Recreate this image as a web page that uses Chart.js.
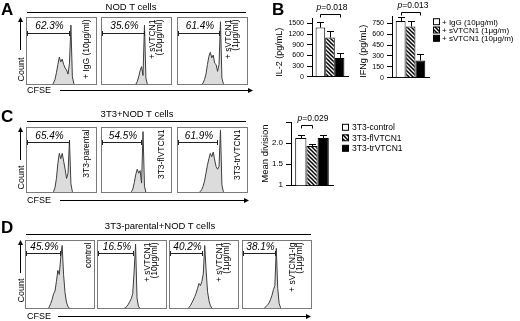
<!DOCTYPE html>
<html>
<head>
<meta charset="utf-8">
<script src="https://cdn.jsdelivr.net/npm/chart.js"></script>
<style>
  html, body { margin: 0; padding: 0; background: #fff; }
  #fig { position: relative; width: 520px; height: 321px; overflow: hidden; }
  #fig canvas { position: absolute; }
  #fig svg { position: absolute; left: 0; top: 0; }
</style>
</head>
<body>
<div id="fig"></div>
<script>
(function () {
    "use strict";

    // CFSE histograms: 50 bins across each plot, counts as % of plot height
    const nodIgG   = [0,0,0,0,0,0,0,0,0,0, 0,0,0,0,0,0,0,0,0,3, 8,18,30,41,34,38,30,25,22,16, 32,88,12,2,0,0,0,0,0,0, 0,0,0,0,0,0,0,0,0,0];
    const nodSv10  = [0,0,0,0,0,0,0,0,0,0, 0,0,0,0,0,0,0,0,0,0, 0,0,0,0,1,5,12,21,27,14, 88,10,1,0,0,0,0,0,0,0, 0,0,0,0,0,0,0,0,0,0];
    const nodSv1   = [0,0,0,0,0,0,0,0,0,0, 0,0,0,0,0,0,0,0,3,8, 16,30,42,48,40,44,32,30,20,30, 93,10,2,0,0,0,0,0,0,0, 0,0,0,0,0,0,0,0,0,0];
    const t3Parent = [0,0,0,0,0,0,0,0,0,0, 0,0,0,0,0,0,0,0,0,2, 8,22,45,60,52,60,48,36,22,30, 80,14,2,0,0,0,0,0,0,0, 0,0,0,0,0,0,0,0,0,0];
    const t3Fl     = [0,0,0,0,0,0,0,0,0,0, 0,0,0,0,0,0,0,0,0,0, 0,2,6,16,28,36,30,34,15,93, 10,1,0,0,0,0,0,0,0,0, 0,0,0,0,0,0,0,0,0,0];
    const t3Tr     = [0,0,0,0,0,0,0,0,0,0, 0,0,0,0,0,0,2,5,10,18, 30,42,52,60,55,62,50,40,36,40, 95,12,2,0,0,0,0,0,0,0, 0,0,0,0,0,0,0,0,0,0];
    const parCtrl  = [0,0,0,0,0,0,0,0,0,0, 0,0,0,0,0,0,0,3,8,14, 22,26,40,56,50,74,92,50,24,10, 4,1,0,0,0,0,0,0,0,0, 0,0,0,0,0,0,0,0,0,0];
    const parSv10  = [0,0,0,0,0,0,0,0,0,0, 0,0,0,0,0,0,0,0,0,1, 2,4,7,11,15,22,55,94,16,4, 1,0,0,0,0,0,0,0,0,0, 0,0,0,0,0,0,0,0,0,0];
    const parSv1   = [0,0,0,0,0,0,0,0,0,0, 0,0,0,0,2,5,9,13,18,23, 30,37,34,40,51,92,55,25,12,5, 1,0,0,0,0,0,0,0,0,0, 0,0,0,0,0,0,0,0,0,0];
    const parSvIg  = [0,0,0,0,0,0,0,0,0,0, 0,0,0,0,0,0,2,4,6,9, 14,20,28,34,88,30,8,2,0,0, 0,0,0,0,0,0,0,0,0,0, 0,0,0,0,0,0,0,0,0,0];

    // divided-cell gates (bin where the gate ends) and their percentages
    const gateNod = [29.6, 30.0, 28.9];
    const pctNod = ["62.3%", "35.6%", "61.4%"];
    const gate3T3 = [29.4, 27.8, 27.3];
    const pct3T3 = ["65.4%", "54.5%", "61.9%"];
    const gatePar = [24.5, 25.2, 22.9, 23.1];
    const pctPar = ["45.9%", "16.5%", "40.2%", "38.1%"];

    const condNod = [["+ IgG (10μg/ml)"], ["+ sVTCN1", "(10μg/ml)"], ["+ sVTCN1", "(1μg/ml)"]];
    const cond3T3 = [["3T3-parental"], ["3T3-flVTCN1"], ["3T3-trVTCN1"]];
    const condPar = [["control"], ["+ sVTCN1", "(10μg/ml)"], ["+ sVTCN1", "(1μg/ml)"], ["+ sVTCN1-Ig", "(1μg/ml)"]];

    // bar charts
    const cytoGroups = ["+ IgG (10μg/ml)", "+ sVTCN1 (1μg/m)", "+ sVTCN1 (10μg/m)"];
    const il2Mean = [1380, 1100, 530];
    const il2Err = [170, 190, 130];
    const ifngMean = [780, 705, 237];
    const ifngErr = [52, 80, 95];
    const lineGroups = ["3T3-control", "3T3-flVTCN1", "3T3-trVTCN1"];
    const divMean = [2.12, 1.93, 2.12];
    const divErr = [0.06, 0.04, 0.06];
    const divTickValues = [1, 1.5, 2];
    const divTickText = ["1", "1.5", "2.0"];

    const FONT = "'Liberation Sans', Arial, sans-serif";
    Chart.defaults.font.family = FONT;
    Chart.defaults.color = "#000";

    const fig = document.getElementById("fig");

    function place(left, top, w, h) {
        const cv = document.createElement("canvas");
        cv.width = w;
        cv.height = h;
        cv.style.left = left + "px";
        cv.style.top = top + "px";
        fig.appendChild(cv);
        return cv;
    }

    // frame + gate bracket + percentage
    const gatePlugin = {
        id: "gate",
        afterDraw(chart, args, o) {
            const { ctx, chartArea: a, scales: { x } } = chart;
            ctx.save();
            ctx.lineWidth = 1;
            ctx.strokeStyle = "#7a7a7a";
            ctx.strokeRect(a.left + 0.5, a.top + 0.5, a.width - 1, a.height - 1);
            const x0 = Math.round(x.getPixelForValue(o.from)) + 0.5;
            const x1 = Math.round(x.getPixelForValue(o.to)) + 0.5;
            const y = Math.round(a.top + o.lineY) + 0.5;
            ctx.strokeStyle = "#222";
            ctx.beginPath();
            ctx.moveTo(x0, y); ctx.lineTo(x1, y);
            ctx.moveTo(x0, y - 2.5); ctx.lineTo(x0, y + 2.5);
            ctx.moveTo(x1, y - 2.5); ctx.lineTo(x1, y + 2.5);
            ctx.stroke();
            ctx.fillStyle = "#000";
            ctx.font = "italic 10px " + FONT;
            ctx.textAlign = "center";
            ctx.fillText(o.text, (x0 + x1) / 2 + 1, a.top + o.textY);
            ctx.restore();
        },
    };

    function cfsePlot(cv, counts, from, to, pct, textY, lineY) {
        return new Chart(cv, {
            type: "line",
            data: {
                labels: counts.map((_, i) => i),
                datasets: [
                    {
                        data: counts,
                        fill: "origin",
                        backgroundColor: "#dcdcdc",
                        borderColor: "#3d3d3d",
                        borderWidth: 1,
                        pointRadius: 0,
                        tension: 0,
                    },
                ],
            },
            options: {
                responsive: false,
                animation: false,
                events: [],
                devicePixelRatio: 1,
                layout: { padding: 0 },
                plugins: {
                    legend: { display: false },
                    tooltip: { enabled: false },
                    gate: { from, to, text: pct, textY, lineY },
                },
                scales: {
                    x: { display: false },
                    y: { display: false, min: 0, max: 100 },
                },
            },
            plugins: [gatePlugin],
        });
    }

    // hatch fill
    function hatch() {
        const c = document.createElement("canvas");
        c.width = 4;
        c.height = 4;
        const g = c.getContext("2d");
        g.fillStyle = "#fff";
        g.fillRect(0, 0, 4, 4);
        g.strokeStyle = "#000";
        g.lineWidth = 1.5;
        g.beginPath();
        g.moveTo(0, 0); g.lineTo(4, 4);
        g.moveTo(-1, 3); g.lineTo(1, 5);
        g.moveTo(3, -1); g.lineTo(5, 1);
        g.stroke();
        return g.createPattern(c, "repeat");
    }
    const fills = ["#fff", hatch(), "#000"];

    // error bars + p-value bracket
    const errorBars = {
        id: "errorBars",
        afterDatasetsDraw(chart, args, o) {
            const { ctx, scales: { y } } = chart;
            ctx.save();
            ctx.strokeStyle = "#000";
            ctx.lineWidth = 1;
            const xs = chart.data.datasets.map((ds, i) => chart.getDatasetMeta(i).data[0].x);
            chart.data.datasets.forEach((ds, i) => {
                const bar = chart.getDatasetMeta(i).data[0];
                const top = Math.round(y.getPixelForValue(ds.data[0] + o.errors[i])) + 0.5;
                const x = Math.round(bar.x) + 0.5;
                ctx.beginPath();
                ctx.moveTo(x, bar.y); ctx.lineTo(x, top);
                ctx.moveTo(x - 3.5, top); ctx.lineTo(x + 3.5, top);
                ctx.stroke();
            });
            const p = o.p;
            const bx0 = Math.round(xs[p.from]) + 0.5, bx1 = Math.round(xs[p.to]) + 0.5;
            const by = Math.round(y.getPixelForValue(p.at)) + 0.5;
            ctx.beginPath();
            ctx.moveTo(bx0, by + 3); ctx.lineTo(bx0, by); ctx.lineTo(bx1, by); ctx.lineTo(bx1, by + 3);
            ctx.stroke();
            ctx.fillStyle = "#000";
            ctx.textAlign = "left";
            ctx.font = "italic 8.5px " + FONT;
            const tx = bx0 - 4, ty = by - 4.5;
            ctx.fillText("p", tx, ty);
            const w = ctx.measureText("p").width;
            ctx.font = "8.5px " + FONT;
            ctx.fillText("=" + p.text, tx + w, ty);
            ctx.restore();
        },
    };

    function barPlot(cv, groups, means, errs, cfg) {
        return new Chart(cv, {
            type: "bar",
            data: {
                labels: [""],
                datasets: groups.map((g, i) => ({
                    label: g,
                    data: [means[i]],
                    backgroundColor: fills[i],
                    borderColor: "#000",
                    borderWidth: 1,
                    categoryPercentage: 0.8,
                    barPercentage: 1,
                })),
            },
            options: {
                responsive: false,
                animation: false,
                events: [],
                devicePixelRatio: 1,
                layout: { padding: { top: cfg.padTop, right: 2, left: 0, bottom: 0 } },
                plugins: {
                    legend: { display: false },
                    tooltip: { enabled: false },
                    errorBars: { errors: errs, p: cfg.p },
                },
                scales: {
                    x: {
                        grid: { display: false },
                        ticks: { display: false },
                        border: { color: "#000" },
                        afterFit: (s) => { s.height = 1; },
                    },
                    y: {
                        min: cfg.min,
                        max: cfg.max,
                        ticks: {
                            stepSize: cfg.step,
                            includeBounds: false,
                            padding: 3,
                            font: { size: cfg.tickSize },
                            callback: cfg.tickText,
                        },
                        grid: { drawOnChartArea: false, tickLength: 5, color: "#000" },
                        border: { color: "#000" },
                        title: {
                            display: true,
                            text: cfg.title,
                            align: cfg.titleAlign,
                            font: { size: cfg.titleSize },
                            padding: { top: cfg.titlePad, bottom: 0 },
                        },
                        afterFit: (s) => { s.width = cfg.axisW; },
                    },
                },
            },
            plugins: [errorBars],
        });
    }

    // panel A
    const boxA = [26, 101, 177];
    [nodIgG, nodSv10, nodSv1].forEach((h, i) => {
        cfsePlot(place(boxA[i], 17, 71, 68), h, 1, gateNod[i], pctNod[i], 12.1, 15.5);
    });
    // panel C
    [t3Parent, t3Fl, t3Tr].forEach((h, i) => {
        cfsePlot(place(boxA[i], 127, 71, 66), h, 1, gate3T3[i], pct3T3[i], 11.6, 14.7);
    });
    // panel D
    const boxD = [25, 97, 169, 242];
    [parCtrl, parSv10, parSv1, parSvIg].forEach((h, i) => {
        cfsePlot(place(boxD[i], 240, 70, 69), h, 0.5, gatePar[i], pctPar[i], 10.3, 13.3);
    });

    // panel B
    barPlot(place(268, 0, 82, 84), cytoGroups, il2Mean, il2Err, {
        padTop: 18, min: 0, max: 1650, step: 300, tickSize: 7,
        title: "IL-2 (pg/mL)", titleAlign: "start", titleSize: 9, titlePad: 6, axisW: 44,
        p: { from: 0, to: 2, at: 1754, text: "0.018" },
    });
    barPlot(place(352, 0, 79, 85), cytoGroups, ifngMean, ifngErr, {
        padTop: 16, min: 0, max: 850, step: 150, tickSize: 7,
        title: "IFNg (pg/mL)", titleAlign: "start", titleSize: 9, titlePad: 6, axisW: 40,
        p: { from: 0, to: 2, at: 900, text: "0.013" },
    });
    // panel C bars
    barPlot(place(255, 110, 80, 83), lineGroups, divMean, divErr, {
        padTop: 12, min: 1, max: 2.5, step: 0.25, tickSize: 8,
        tickText: (v) => {
            const k = divTickValues.indexOf(v);
            return k < 0 ? "" : divTickText[k];
        },
        title: "Mean division", titleAlign: "center", titleSize: 9.5, titlePad: 5, axisW: 36,
        p: { from: 0, to: 1, at: 2.43, text: "0.029" },
    });

    // annotations
    const NS = "http://www.w3.org/2000/svg";
    const svg = document.createElementNS(NS, "svg");
    svg.setAttribute("width", 520);
    svg.setAttribute("height", 321);
    svg.style.fontFamily = FONT;
    fig.appendChild(svg);

    function add(tag, attrs, content) {
        const e = document.createElementNS(NS, tag);
        Object.keys(attrs).forEach((k) => e.setAttribute(k, attrs[k]));
        if (content != null) e.textContent = content;
        svg.appendChild(e);
        return e;
    }
    function txt(s, x, y, size, extra) {
        return add("text", Object.assign({ x, y, "font-size": size, fill: "#000" }, extra || {}), s);
    }
    function vtxt(s, x, y, size, anchor) {
        return txt(s, x, y, size, { "text-anchor": anchor, transform: `rotate(-90 ${x} ${y})` });
    }
    function hline(x1, x2, y) {
        add("line", { x1, x2, y1: y + 0.5, y2: y + 0.5, stroke: "#000", "stroke-width": 1 });
    }
    function cfseAxis(y, x1, tip) {
        txt("CFSE", 27, y + 3.2, 9);
        hline(x1, tip - 3, y);
        add("path", { d: `M${tip - 5} ${y - 2} L${tip} ${y + 0.5} L${tip - 5} ${y + 3} Z`, fill: "#000" });
    }
    function countAxis(yc, y0, tip) {
        vtxt("Count", 23.5, yc, 9, "middle");
        add("line", { x1: 20.5, x2: 20.5, y1: y0, y2: tip + 3, stroke: "#000", "stroke-width": 1 });
        add("path", { d: `M18 ${tip + 5} L20.5 ${tip} L23 ${tip + 5} Z`, fill: "#000" });
    }
    function condLabels(lists, lefts, width, top, offs) {
        lists.forEach((lines, i) => {
            const right = lefts[i] + width - 1;
            const xs = lines.length === 1 ? [right - offs[0]] : [right - 16.5, right - 9];
            lines.forEach((s, j) => vtxt(s, xs[j], top + 2.5, 8.5, "end"));
        });
    }

    // defs: hatch
    const defs = add("defs", {});
    const pat = document.createElementNS(NS, "pattern");
    [["id", "hatch"], ["width", 4], ["height", 4], ["patternUnits", "userSpaceOnUse"]].forEach(([k, v]) => pat.setAttribute(k, v));
    pat.innerHTML = '<rect width="4" height="4" fill="#fff"/><path d="M0,0 L4,4 M-1,3 L1,5 M3,-1 L5,1" stroke="#000" stroke-width="1.5"/>';
    defs.appendChild(pat);
    const swatch = ["#fff", "url(#hatch)", "#000"];

    // panel letters
    [["A", 1, 15], ["B", 272, 15], ["C", 1, 122], ["D", 1, 233]].forEach(([l, x, y]) =>
        txt(l, x, y, 17, { "font-weight": "bold" }));

    // titles
    txt("NOD T cells", 131, 10, 9.5, { "text-anchor": "middle" });
    hline(27, 246, 12);
    txt("3T3+NOD T cells", 137, 117, 9.5, { "text-anchor": "middle" });
    hline(27, 246, 121);
    txt("3T3-parental+NOD T cells", 160, 229, 9.5, { "text-anchor": "middle" });
    hline(26, 311, 234);

    countAxis(69.5, 50, 17);
    countAxis(177.5, 160, 127);
    countAxis(290.5, 273, 240);
    cfseAxis(90, 60, 253);
    cfseAxis(200, 60, 249);
    cfseAxis(316, 58, 311);

    condLabels(condNod, boxA, 71, 17, [7]);
    condLabels(cond3T3, boxA, 71, 127, [7]);
    condLabels(condPar.slice(0, 1), boxD, 70, 240, [3]);
    condLabels(condPar.slice(1), boxD.slice(1), 70, 240, [7]);

    // legends
    cytoGroups.forEach((g, i) => {
        const yc = 21.7 + i * 8.3;
        add("rect", { x: 433.5, y: yc - 3, width: 6, height: 6, fill: swatch[i], stroke: "#000", "stroke-width": 1 });
        txt(g, 442, yc + 2.9, 8);
    });
    lineGroups.forEach((g, i) => {
        const yc = 127.3 + i * 10.5;
        add("rect", { x: 342.5, y: yc - 3, width: 6, height: 6, fill: swatch[i], stroke: "#000", "stroke-width": 1 });
        txt(g, 352, yc + 3, 8.5);
    });
})();
</script>
</body>
</html>
